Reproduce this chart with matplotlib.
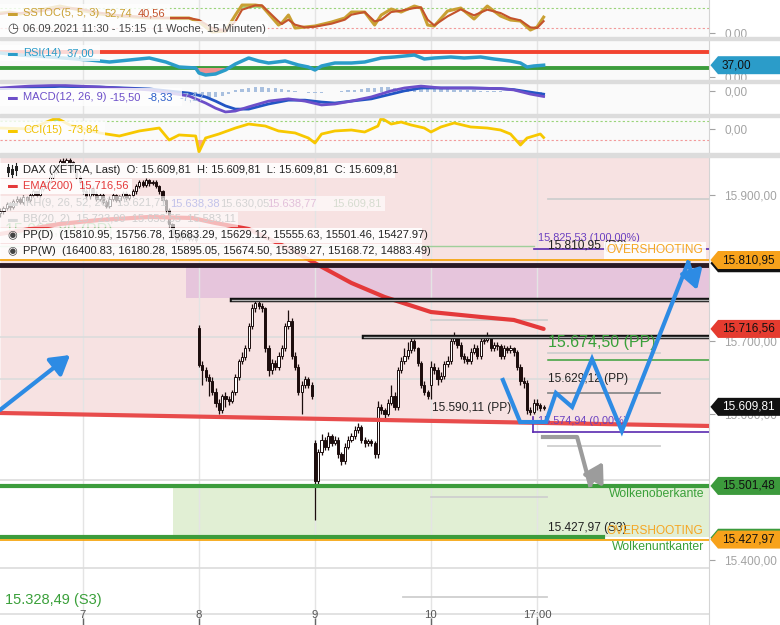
import numpy as np
import matplotlib
matplotlib.use("Agg")
import matplotlib.pyplot as plt
from matplotlib.patches import Rectangle, Polygon
from matplotlib.lines import Line2D
from matplotlib import transforms

plt.rcParams['font.family'] = ['Liberation Sans', 'DejaVu Sans']

# ---------------- x axis (bar index, 15-minute bars, day 7 09:00 = 0) ----------------
day_tick_idx = [0, 35, 70, 105, 137]
day_tick_labels = ['7', '8', '9', '10', '17:00']
first_bar = -25

# ---------------- candles ----------------
day_open = [15875, 15915, 15718, 15560, 15640]
close_6 = [15878, 15882, 15888, 15884, 15892, 15895, 15890, 15897, 15893, 15900, 15905, 15900, 15908,
           15912, 15918, 15925, 15932, 15940, 15946, 15944, 15948, 15945, 15935, 15925, 15918]
high_6 = [15882, 15885, 15891, 15890, 15895, 15899, 15897, 15900, 15898, 15903, 15908, 15906, 15911,
          15915, 15921, 15928, 15935, 15943, 15949, 15950, 15951, 15950, 15947, 15937, 15928]
low_6 = [15870, 15874, 15879, 15880, 15881, 15889, 15887, 15888, 15890, 15890, 15897, 15897, 15897,
         15905, 15909, 15915, 15922, 15929, 15937, 15941, 15941, 15942, 15932, 15922, 15914]
close_7 = [15905, 15898, 15910, 15902, 15895, 15900, 15890, 15885, 15895, 15900, 15893, 15898, 15903,
           15896, 15900, 15905, 15912, 15918, 15914, 15920, 15916, 15918, 15912, 15905, 15893, 15880,
           15860, 15845, 15840, 15848, 15842, 15846, 15840, 15844, 15838]
high_7 = [15918, 15908, 15913, 15913, 15905, 15903, 15903, 15893, 15898, 15903, 15902, 15900, 15906,
          15905, 15902, 15908, 15915, 15921, 15921, 15923, 15922, 15921, 15920, 15914, 15907, 15895,
          15882, 15862, 15848, 15851, 15850, 15849, 15848, 15846, 15847]
low_7 = [15902, 15895, 15895, 15899, 15892, 15892, 15887, 15882, 15882, 15892, 15890, 15890, 15896,
         15893, 15893, 15897, 15902, 15910, 15911, 15911, 15913, 15914, 15909, 15902, 15890, 15876,
         15856, 15841, 15836, 15837, 15839, 15840, 15837, 15837, 15835]
close_8 = [15667, 15660, 15650, 15645, 15630, 15615, 15606, 15625, 15620, 15618, 15630, 15650, 15672,
           15678, 15690, 15720, 15745, 15752, 15748, 15745, 15690, 15660, 15670, 15665, 15680, 15690,
           15720, 15728, 15680, 15665, 15630, 15640, 15648, 15640, 15625]
high_8 = [15722, 15672, 15665, 15655, 15650, 15635, 15620, 15628, 15630, 15624, 15633, 15655, 15676,
          15685, 15695, 15725, 15750, 15759, 15756, 15752, 15747, 15695, 15675, 15674, 15685, 15695,
          15725, 15742, 15732, 15685, 15668, 15645, 15652, 15651, 15644]
low_8 = [15664, 15640, 15645, 15625, 15626, 15610, 15600, 15602, 15610, 15612, 15615, 15626, 15646,
         15668, 15674, 15686, 15716, 15740, 15744, 15740, 15685, 15652, 15655, 15660, 15660, 15676,
         15686, 15716, 15676, 15660, 15626, 15600, 15636, 15635, 15620]
close_9 = [15508, 15548, 15565, 15555, 15570, 15560, 15565, 15545, 15535, 15555, 15565, 15570, 15578,
           15582, 15565, 15560, 15563, 15560, 15545, 15610, 15605, 15600, 15615, 15625, 15610, 15660,
           15672, 15680, 15688, 15700, 15690, 15670, 15640, 15630, 15625]
high_9 = [15565, 15552, 15572, 15568, 15575, 15573, 15570, 15568, 15548, 15560, 15570, 15574, 15584,
          15588, 15585, 15568, 15566, 15566, 15563, 15618, 15614, 15608, 15620, 15640, 15630, 15665,
          15678, 15690, 15698, 15708, 15703, 15692, 15672, 15645, 15633]
low_9 = [15455, 15500, 15544, 15550, 15550, 15556, 15557, 15540, 15530, 15532, 15552, 15562, 15566,
         15574, 15560, 15555, 15556, 15556, 15540, 15540, 15600, 15595, 15597, 15612, 15605, 15605,
         15656, 15668, 15676, 15684, 15686, 15666, 15636, 15626, 15620]
close_10 = [15665, 15660, 15648, 15652, 15668, 15672, 15700, 15705, 15695, 15680, 15675, 15672, 15685,
            15690, 15680, 15700, 15702, 15705, 15690, 15695, 15693, 15680, 15690, 15688, 15690, 15685,
            15665, 15645, 15642, 15605, 15603, 15615, 15612, 15608, 15609.81]
high_10 = [15672, 15670, 15664, 15658, 15672, 15680, 15704, 15712, 15708, 15698, 15684, 15680, 15690,
           15696, 15694, 15704, 15708, 15712, 15708, 15699, 15698, 15696, 15694, 15693, 15694, 15692,
           15688, 15668, 15650, 15646, 15610, 15620, 15620, 15615, 15612]
low_10 = [15620, 15655, 15640, 15644, 15648, 15664, 15668, 15696, 15690, 15676, 15670, 15668, 15668,
          15682, 15676, 15676, 15696, 15698, 15686, 15686, 15688, 15676, 15676, 15684, 15684, 15680,
          15660, 15640, 15636, 15600, 15598, 15600, 15606, 15604, 15606]

# ---------------- EMA(200) ----------------
ema_x = [-25, -7, 5, 20, 33, 40, 50, 63, 71, 81, 91, 105, 120, 130, 139]
ema_v = [15846.6, 15860.3, 15865.8, 15869.9, 15868.5, 15861.6, 15853.4, 15824.7, 15804.1, 15779.5,
         15760.3, 15739.7, 15732.9, 15728.8, 15716.56]

# ---------------- indicators ----------------
sst_x = [-25, -22, -19, -13, -7, -1, 5, 11, 20, 26, 32, 35, 39, 43, 46, 48, 52, 54, 59, 60, 62, 64, 67,
         70, 75, 79, 81, 85, 88, 90, 93, 96, 100, 102, 104, 106, 110, 114, 118, 122, 126, 129, 132, 135,
         137, 139]
sst_k = [65, 68, 62, 74, 86, 74, 62, 56, 50, 50, 50, 38, 8, 11, 59, 89, 89, 86, 29, 35, 59, 20, 23, 26,
         38, 50, 68, 68, 29, 59, 77, 68, 86, 80, 29, 26, 71, 80, 47, 86, 56, 44, 41, 14, 23, 52.74]
sst_d = [62, 66, 65, 70, 80, 78, 66, 58, 52, 50, 50, 44, 20, 10, 40, 75, 88, 88, 40, 32, 45, 30, 22, 24,
         33, 45, 60, 68, 40, 45, 68, 72, 80, 82, 45, 28, 55, 76, 58, 75, 65, 50, 43, 22, 20, 40.56]

rsi_x = [-25, -19, -10, 2, 8, 14, 20, 25, 29, 34, 35, 37, 40, 43, 46, 50, 53, 56, 61, 65, 68, 70, 72, 76,
         81, 85, 90, 94, 100, 103, 106, 111, 115, 120, 124, 129, 132, 134, 136, 139]
rsi_v = [67.5, 62.5, 57.5, 50, 45, 50, 55, 45, 32.5, 30, 17.5, 12.5, 15, 25, 40, 55, 47.5, 42.5, 47.5,
         37.5, 32.5, 25, 35, 42.5, 42.5, 45, 55, 57.5, 62.5, 52.5, 55, 57.5, 55, 57.5, 52.5, 47.5, 42.5,
         32.5, 35, 37.0]

macd_x = [-25, -16, -7, 5, 20, 32, 37, 40, 43, 46, 50, 56, 62, 67, 72, 76, 81, 87, 93, 97, 102, 108, 117,
          126, 130, 135, 139]
macd_v = [11, 17, 20, 14, 5, -14, -36, -52, -64, -61, -48, -30, -23, -30, -42, -39, -30, -17, 2, 11, 17,
          11, 11, 9, 5, -8, -15.5]
signal_v = [9, 12, 16, 14, 8, -5, -17, -30, -45, -55, -55, -39, -27, -27, -33, -36, -30, -23, -8, 2, 11,
            11, 11, 9, 6, -2, -8.33]
hist_x = list(range(30, 139, 2))
hist_v = [-6, -10, -14, -18, -20, -18, -14, -8,
          4, 8, 12, 14, 14, 12, 10, 8, 5,
          2, -2, -4, -5, -4, -2, 0,
          2, 4, 6, 8, 10, 12, 13, 13, 12, 12, 11, 10,
          10, 9, 8, 8, 7, 6, 5, 5, 4, 3, 2, 2,
          1, 0, -2, -3, -5, -6, -7]

cci_x = [-25, -16, -8, -4, 5, 11, 17, 23, 26, 29, 34, 35, 37, 41, 46, 50, 55, 59, 64, 68, 70, 72, 76, 81,
         85, 89, 90, 93, 96, 99, 103, 105, 108, 112, 117, 122, 126, 129, 132, 134, 138, 139]
cci_v = [26, 16, 132, 58, -26, -58, -5, 26, -100, -47, -58, -226, -79, -37, 26, 68, 47, -5, -26, -79,
         -132, -37, -5, 5, -16, 47, 132, 68, 89, 58, 26, -16, 37, 79, 37, 26, 5, -37, -153, -79, -37,
         -73.84]

# ---------------- levels & drawings ----------------
pp_d = [15810.95, 15756.78, 15683.29, 15629.12, 15555.63, 15501.46, 15427.97]
pp_w_pp = 15674.50
pp_w_r1 = 15895.05
fib_hi, fib_lo = 15825.53, 15574.94
trend_x = [-25.04, 188.9]
trend_y = [15601.4, 15583.6]
res_zone = (31.1, 15758.9, 15804.1)          # x start, low, high
res_line_main = 15804.1
res_line_2 = (45.0, 15756.78)
res_line_3 = (84.8, 15705.5)
cloud_x0 = 27.2
cloud_top, cloud_bot = 15501.48, 15431.0
green_thin = 15830.0
light_levels = [15705, 15648, 15510, 15389.27]
seg_price = [pp_w_r1, 15683.29, 15629.12, 15555.63, 15728.8, 15486.3, 15349.3]
seg_x0 = [140.3, 140.3, 140.3, 140.3, 105.0, 105.0, 96.6]
seg_x1 = [188.9, 174.1, 174.1, 174.1, 140.0, 140.0, 140.0]
blue_left = [(-25.04, 15605.5), (-3.9, 15680.8)]
blue_path_x = [126.7, 131.9, 139.7, 142.7, 147.6, 153.6, 162.6, 182.6, 185.3]
blue_path_y = [15646.6, 15589.0, 15589.0, 15628.8, 15609.6, 15675.3, 15576.7, 15807.5, 15769.9]
gray_path_x = [138.8, 149.1, 153.0, 156.9]
gray_path_y = [15568.5, 15568.5, 15502.7, 15534.2]

last_price = 15609.81
ema_last = 15716.56
rsi_last = 37.00


def de(v):
    s = f"{v:,.2f}"
    return s.replace(',', 'X').replace('.', ',').replace('X', '.')


# ---------------- figure ----------------
W, H = 780.0, 625.0
PLOT_W = 709.0
XMIN, XMAX = -25.04, 188.9
fig = plt.figure(figsize=(7.8, 6.25), dpi=100)
fig.patch.set_facecolor('white')


def axes_at(y0, y1, bg):
    ax = fig.add_axes([0, 1 - y1 / H, PLOT_W / W, (y1 - y0) / H])
    ax._px_h = (y1 - y0)
    ax.set_facecolor(bg)
    ax.set_xlim(XMIN, XMAX)
    for s in ['top', 'left', 'bottom']:
        ax.spines[s].set_visible(False)
    ax.spines['right'].set_color('#d4d4d4')
    ax.yaxis.tick_right()
    ax.tick_params(axis='y', colors='#a3a3a3', labelsize=8.5, length=4, pad=7, width=0.8)
    ax.tick_params(axis='x', bottom=False, labelbottom=False)
    for t in day_tick_idx:
        ax.axvline(t, color='#e4e4e4', lw=1, zorder=0.8)
    return ax


def price_tag(ax, y, text, fc, tc):
    tr = transforms.blended_transform_factory(ax.transAxes, ax.transData)
    y0, y1 = ax.get_ylim()
    dy = 9.0 * (y1 - y0) / ax._px_h
    xa, xb, xc = 1.0, 718.0 / PLOT_W, 780.0 / PLOT_W
    poly = Polygon([(xa + 0.002, y), (xb, y + dy), (xc, y + dy), (xc, y - dy), (xb, y - dy)], closed=True,
                   fc=fc, ec='none', transform=tr, clip_on=False, zorder=20)
    ax.add_patch(poly)
    if text:
        ax.text(722.0 / PLOT_W, y, text, transform=tr, ha='left', va='center', fontsize=8.5, color=tc,
                zorder=21, clip_on=False)


for (y0, y1) in [(37, 40), (80, 83), (114, 117), (153, 157)]:
    fig.add_artist(Rectangle((0, 1 - y1 / H), 1, (y1 - y0) / H, transform=fig.transFigure,
                             color='#dcdcdc', zorder=1))

# SSTOC
a1 = axes_at(0, 37, '#fafafa')
a1.set_ylim(-6.9, 104.1)
a1.axhline(80, color='#9ad47a', lw=0.8, ls=(0, (2, 2)), zorder=1)
a1.axhline(20, color='#f29a9a', lw=0.8, ls=(0, (2, 2)), zorder=1)
k = np.array(sst_k)
a1.fill_between(sst_x, k, 80, where=k > 80, interpolate=True, color='#a6da86', lw=0, zorder=1.5)
a1.fill_between(sst_x, k, 20, where=k < 20, interpolate=True, color='#f3a3a3', lw=0, zorder=1.5)
a1.plot(sst_x, sst_k, color='#c9a033', lw=2.2, zorder=2)
a1.plot(sst_x, sst_d, color='#c4532c', lw=1.5, zorder=2.1)
a1.set_yticks([5])
a1.set_yticklabels(['0,00'])

# RSI
a2 = axes_at(40, 80, '#fafafa')
a2.set_ylim(0, 100)
a2.axhline(70, color='#f2432f', lw=2.8, zorder=1)
a2.axhline(30, color='#3c9c3c', lw=2.8, zorder=1)
r = np.array(rsi_v)
a2.fill_between(rsi_x, r, 30, where=r < 30, interpolate=True, color='#f09090', lw=0, zorder=1.5)
a2.plot(rsi_x, rsi_v, color='#2b9cc9', lw=2.5, zorder=2)
a2.set_yticks([7.5])
a2.set_yticklabels(['0,00'])
price_tag(a2, rsi_last, de(rsi_last), '#2b9cc9', '#111111')

# MACD
a3 = axes_at(83, 114, '#fafafa')
a3.set_ylim(-70.3, 26.6)
a3.bar(hist_x, hist_v, width=1.0, color='#a9c0df', zorder=1.5)
a3.plot(macd_x, signal_v, color='#2255c4', lw=2, zorder=2)
a3.plot(macd_x, macd_v, color='#6d4fc9', lw=2, zorder=2.1)
a3.set_yticks([1.5])
a3.set_yticklabels(['0,00'])

# CCI
a4 = axes_at(117, 153, '#fafafa')
a4.set_ylim(-237, 142)
a4.axhline(100, color='#9ad47a', lw=0.8, ls=(0, (2, 2)), zorder=1)
a4.axhline(-100, color='#f29a9a', lw=0.8, ls=(0, (2, 2)), zorder=1)
cc = np.array(cci_v)
a4.fill_between(cci_x, cc, 100, where=cc > 100, interpolate=True, color='#a6da86', lw=0, zorder=1.5)
a4.fill_between(cci_x, cc, -100, where=cc < -100, interpolate=True, color='#f3a3a3', lw=0, zorder=1.5)
a4.plot(cci_x, cci_v, color='#f7c800', lw=2, zorder=2)
a4.set_yticks([16])
a4.set_yticklabels(['0,00'])

# MAIN
ax = axes_at(157, 625, 'white')
YTOP, YBOT = 15952.05, 15310.96
ax.set_ylim(YBOT, YTOP)
main_ticks = [15400, 15600, 15700, 15900]
ax.set_yticks(main_ticks)
ax.set_yticklabels([de(v) for v in main_ticks])
ax.set_xticks(day_tick_idx)
ax.tick_params(axis='x', bottom=True, direction='in', length=5, color='#666666', width=1, labelbottom=False)
bt = transforms.blended_transform_factory(ax.transData, ax.transAxes)
for t, lab in zip(day_tick_idx, day_tick_labels):
    ax.text(t, 0.0224, lab, transform=bt, ha='center', va='center', fontsize=8.2, color='#555555', zorder=12)
ax.plot([0, 1], [0.0235, 0.0235], transform=ax.transAxes, color='#dddddd', lw=1.2, zorder=0.9)

# backgrounds
ax.fill_between(trend_x, trend_y, YTOP, color='#f7e2e2', lw=0, zorder=0.5)
ax.fill_between([res_zone[0], XMAX], res_zone[1], res_zone[2], color='#e6c5dc', lw=0, zorder=0.6)
ax.fill_between([cloud_x0, XMAX], cloud_bot, cloud_top, color='#e1efd4', lw=0, zorder=0.6)

for lv in light_levels:
    ax.axhline(lv, color='#dcdcdc', lw=1.2, zorder=0.9)
for p, x0, x1, col in zip(seg_price, seg_x0, seg_x1,
                          ['#cfcfcf', '#cfcfcf', '#8a8a8a', '#cfcfcf', '#cfcfcf', '#cfcfcf', '#cfcfcf']):
    ax.plot([x0, x1], [p, p], color=col, lw=1.3, zorder=1)
ax.plot([XMIN, 136], [green_thin, green_thin], color='#9fcf9a', lw=1.0, zorder=1)
ax.plot([140.3, XMAX], [pp_w_pp, pp_w_pp], color='#3aa03a', lw=1.1, zorder=1)

# candles
opens, closes, highs, lows = [], [], [], []
for op, cl, hi, lo in zip(day_open, [close_6, close_7, close_8, close_9, close_10],
                          [high_6, high_7, high_8, high_9, high_10], [low_6, low_7, low_8, low_9, low_10]):
    prev = op
    for c_, h_, l_ in zip(cl, hi, lo):
        opens.append(prev)
        closes.append(c_)
        highs.append(h_)
        lows.append(l_)
        prev = c_
o = np.array(opens, float)
c = np.array(closes, float)
hi = np.maximum(np.array(highs, float), np.maximum(o, c))
lo = np.minimum(np.array(lows, float), np.minimum(o, c))
xb = np.arange(first_bar, first_bar + len(c))
up = c >= o
ax.vlines(xb, lo, hi, color='#1c0d0d', lw=0.9, zorder=3)
ax.bar(xb, np.maximum(np.abs(c - o), 0.9), bottom=np.minimum(o, c), width=0.66,
       color=np.where(up, 'white', '#1c0d0d'), edgecolor='#1c0d0d', linewidth=0.7, zorder=3.2)

# EMA
ax.plot(ema_x, ema_v, color='#e4393a', lw=3, zorder=4, solid_capstyle='round')

# horizontal level lines
ax.axhline(pp_d[0], color='#f5a000', lw=1.2, zorder=4.2)
ax.axhline(res_line_main, color='#2a1a24', lw=3.5, zorder=4.3)
for (x0, lv) in [res_line_2, res_line_3]:
    ax.plot([x0, XMAX], [lv, lv], color='#111111', lw=3.2, zorder=4.3)
    ax.plot([x0, XMAX], [lv, lv], color='#b0b0b0', lw=1.0, zorder=4.4)
ax.plot(trend_x, trend_y, color='#e84c4c', lw=3, zorder=4.5)
ax.axhline(cloud_top, color='#3c9c3c', lw=3, zorder=4.5)
ax.plot([XMIN, 157.0], [cloud_bot, cloud_bot], color='#3c9c3c', lw=3, zorder=4.5)
ax.axhline(pp_d[6], color='#f5a000', lw=1.2, zorder=4.6)
# fib
ax.plot([136.1, XMAX], [fib_hi, fib_hi], color='#5a2ab0', lw=1.2, zorder=4.7)
ax.plot([135.8, XMAX], [fib_lo, fib_lo], color='#5a2ab0', lw=1.2, zorder=4.7)
ax.plot([135.8, 135.8], [fib_lo, 15596], color='#5a2ab0', lw=1.2, zorder=4.7)

# texts in chart
ax.text(-23.5, 15852, '15.905,80 (PP)', color='#5db45d', fontsize=11.5, va='center', zorder=2, alpha=0.6)
ax.text(137.3, 15841, '15.825,53 (100,00%)', color='#6a3fc0', fontsize=7.8, va='center', zorder=8)
ax.text(140.3, 15830, '15.810,95 (R3)', color='#222222', fontsize=8.6, va='center', zorder=8)
ax.text(158.0, 15824.5, 'OVERSHOOTING', color='#f5a623', fontsize=8.6, va='center', zorder=8.5,
        bbox=dict(boxstyle='square,pad=0.2', fc='white', ec='none', alpha=0.9))
ax.text(140.3, 15697.3, '15.674,50 (PP)', color='#3aa03a', fontsize=11.5, va='center', zorder=8)
ax.text(140.3, 15648, '15.629,12 (PP)', color='#222222', fontsize=8.6, va='center', zorder=8)
ax.text(105.3, 15608, '15.590,11 (PP)', color='#222222', fontsize=8.6, va='center', zorder=8)
ax.text(137.3, 15590, '15.574,94 (0,00%)', color='#6a3fc0', fontsize=7.8, va='center', zorder=8)
ax.text(187.4, 15490.4, 'Wolkenoberkante', color='#3aa03a', fontsize=8.8, va='center', ha='right', zorder=8)
ax.text(140.3, 15443.8, '15.427,97 (S3)', color='#222222', fontsize=8.6, va='center', zorder=8)
ax.text(158.0, 15439.7, 'OVERSHOOTING', color='#f5a623', fontsize=8.6, va='center', zorder=8.5)
ax.text(187.4, 15417.8, 'Wolkenuntkanter', color='#3aa03a', fontsize=8.8, va='center', ha='right', zorder=8)
ax.text(-23.5, 15345, '15.328,49 (S3)', color='#3aa03a', fontsize=10.5, va='center', zorder=8)

# arrows
arrow_kw = dict(arrowstyle='-|>,head_length=0.7,head_width=0.42', lw=3, shrinkA=0, shrinkB=0,
                mutation_scale=16)
ax.annotate('', xy=blue_left[1], xytext=blue_left[0],
            arrowprops=dict(color='#2d8be4', **arrow_kw), zorder=9)
ax.plot(blue_path_x[:-1], blue_path_y[:-1], color='#2d8be4', lw=3, zorder=9, solid_joinstyle='miter')
ax.annotate('', xy=(blue_path_x[-1], blue_path_y[-1]), xytext=(blue_path_x[-2], blue_path_y[-2]),
            arrowprops=dict(color='#2d8be4', **arrow_kw), zorder=9)
ax.plot(gray_path_x[:-1], gray_path_y[:-1], color='#9c9c9c', lw=3, zorder=9)
ax.annotate('', xy=(gray_path_x[-1], gray_path_y[-1]), xytext=(gray_path_x[-2], gray_path_y[-2]),
            arrowprops=dict(color='#9c9c9c', **arrow_kw), zorder=9)

# price tags (hidden ones first)
price_tag(ax, 15806.5, '', '#111111', 'white')
price_tag(ax, pp_d[0], de(pp_d[0]), '#f7a21b', '#111111')
price_tag(ax, ema_last, de(ema_last), '#e53b2f', '#111111')
price_tag(ax, last_price, de(last_price), '#111111', 'white')
price_tag(ax, cloud_top, de(cloud_top), '#3c9a3c', '#111111')
price_tag(ax, 15430.5, '', '#3c9a3c', '#111111')
price_tag(ax, pp_d[6], de(pp_d[6]), '#f7a21b', '#111111')


# ---------------- legends (figure pixel positions) ----------------
def fig_box(x0, y0, x1, y1, alpha):
    fig.add_artist(Rectangle((x0 / W, 1 - y1 / H), (x1 - x0) / W, (y1 - y0) / H, transform=fig.transFigure,
                             fc='white', ec='none', alpha=alpha, zorder=5))


def ftext(x, y, s, color, size=8.0, **kw):
    fig.text(x / W, 1 - y / H, s, color=color, fontsize=size, va='center', ha='left', zorder=6, **kw)


# indicator legends
fig_box(0, 4, 170, 21, 0.8)
ftext(8, 12.5, '▬', '#c9a033', 7)
ftext(23, 13, 'SSTOC(5, 5, 3)', '#c9a033')
ftext(105, 13, '52,74', '#c9a033')
ftext(138, 13, '40,56', '#c4532c')
fig_box(0, 21, 268, 37, 0.8)
ftext(7, 28.5, '◷', '#444444', 9, family='DejaVu Sans')
ftext(23, 29, '06.09.2021 11:30 - 15:15', '#444444')
ftext(153, 29, '(1 Woche, 15 Minuten)', '#444444')
fig_box(0, 45, 100, 61, 0.8)
ftext(8, 52.5, '▬', '#2b9cc9', 7)
ftext(23, 53, 'RSI(14)', '#2b9cc9')
ftext(67, 53, '37,00', '#2b9cc9')
fig_box(0, 88, 182, 106, 0.8)
ftext(8, 96.5, '▬', '#6d4fc9', 7)
ftext(23, 97, 'MACD(12, 26, 9)', '#6d4fc9')
ftext(110, 97, '-15,50', '#6d4fc9')
ftext(147, 97, '-8,33', '#2a5cc8')
ftext(180, 97, '-7,17', '#a9c0df')
fig_box(0, 121, 105, 139, 0.8)
ftext(8, 129.5, '▬', '#f7c800', 7)
ftext(23, 130, 'CCI(15)', '#f0c000')
ftext(68, 130, '-73,84', '#f0c000')

# main legend
fig_box(0, 163, 395, 178, 0.88)
for xx, y_top, y_bot, b0, b1 in [(8, 164, 176, 167, 173), (12, 165, 177, 169, 175), (16, 163, 175, 166, 171)]:
    fig.add_artist(Line2D([xx / W, xx / W], [1 - y_top / H, 1 - y_bot / H], color='#222222', lw=0.8,
                          transform=fig.transFigure, zorder=6))
    fig.add_artist(Rectangle(((xx - 1.5) / W, 1 - b1 / H), 3 / W, (b1 - b0) / H, transform=fig.transFigure,
                             fc='#222222', ec='none', zorder=6))
ftext(23, 170, 'DAX (XETRA, Last)  O: 15.609,81  H: 15.609,81  L: 15.609,81  C: 15.609,81', '#222222')
fig_box(0, 179, 132, 194, 0.88)
ftext(8, 185.5, '▬', '#e4393a', 7)
ftext(23, 186, 'EMA(200)  15.716,56', '#e4393a')
fig_box(0, 196, 385, 211, 0.65)
ftext(8, 202.5, '▬', '#dadada', 7)
ftext(23, 203, 'IKH(9, 26, 52, 26)  15.621,71', '#d2d2d2')
ftext(170, 203, '15.638,38', '#c2c2ea')
ftext(220, 203, '15.630,05', '#d4d4d4')
ftext(267, 203, '15.638,77', '#e2c0da')
ftext(332, 203, '15.609,81', '#d6dcd0')
fig_box(0, 212, 238, 227, 0.65)
ftext(8, 218.5, '▬', '#dadada', 7)
ftext(23, 219, 'BB(20, 2)  15.723,99  15.653,55  15.583,11', '#cfcfcf')
fig_box(0, 228, 422, 243, 0.88)
ftext(7, 235, '◉', '#444444', 8, family='DejaVu Sans')
ftext(23, 235, 'PP(D)  (15810.95, 15756.78, 15683.29, 15629.12, 15555.63, 15501.46, 15427.97)', '#222222')
fig_box(0, 244, 422, 259, 0.88)
ftext(7, 251, '◉', '#444444', 8, family='DejaVu Sans')
ftext(23, 251, 'PP(W)  (16400.83, 16180.28, 15895.05, 15674.50, 15389.27, 15168.72, 14883.49)', '#222222')

fig.savefig('out.png', dpi=100, facecolor='white')
